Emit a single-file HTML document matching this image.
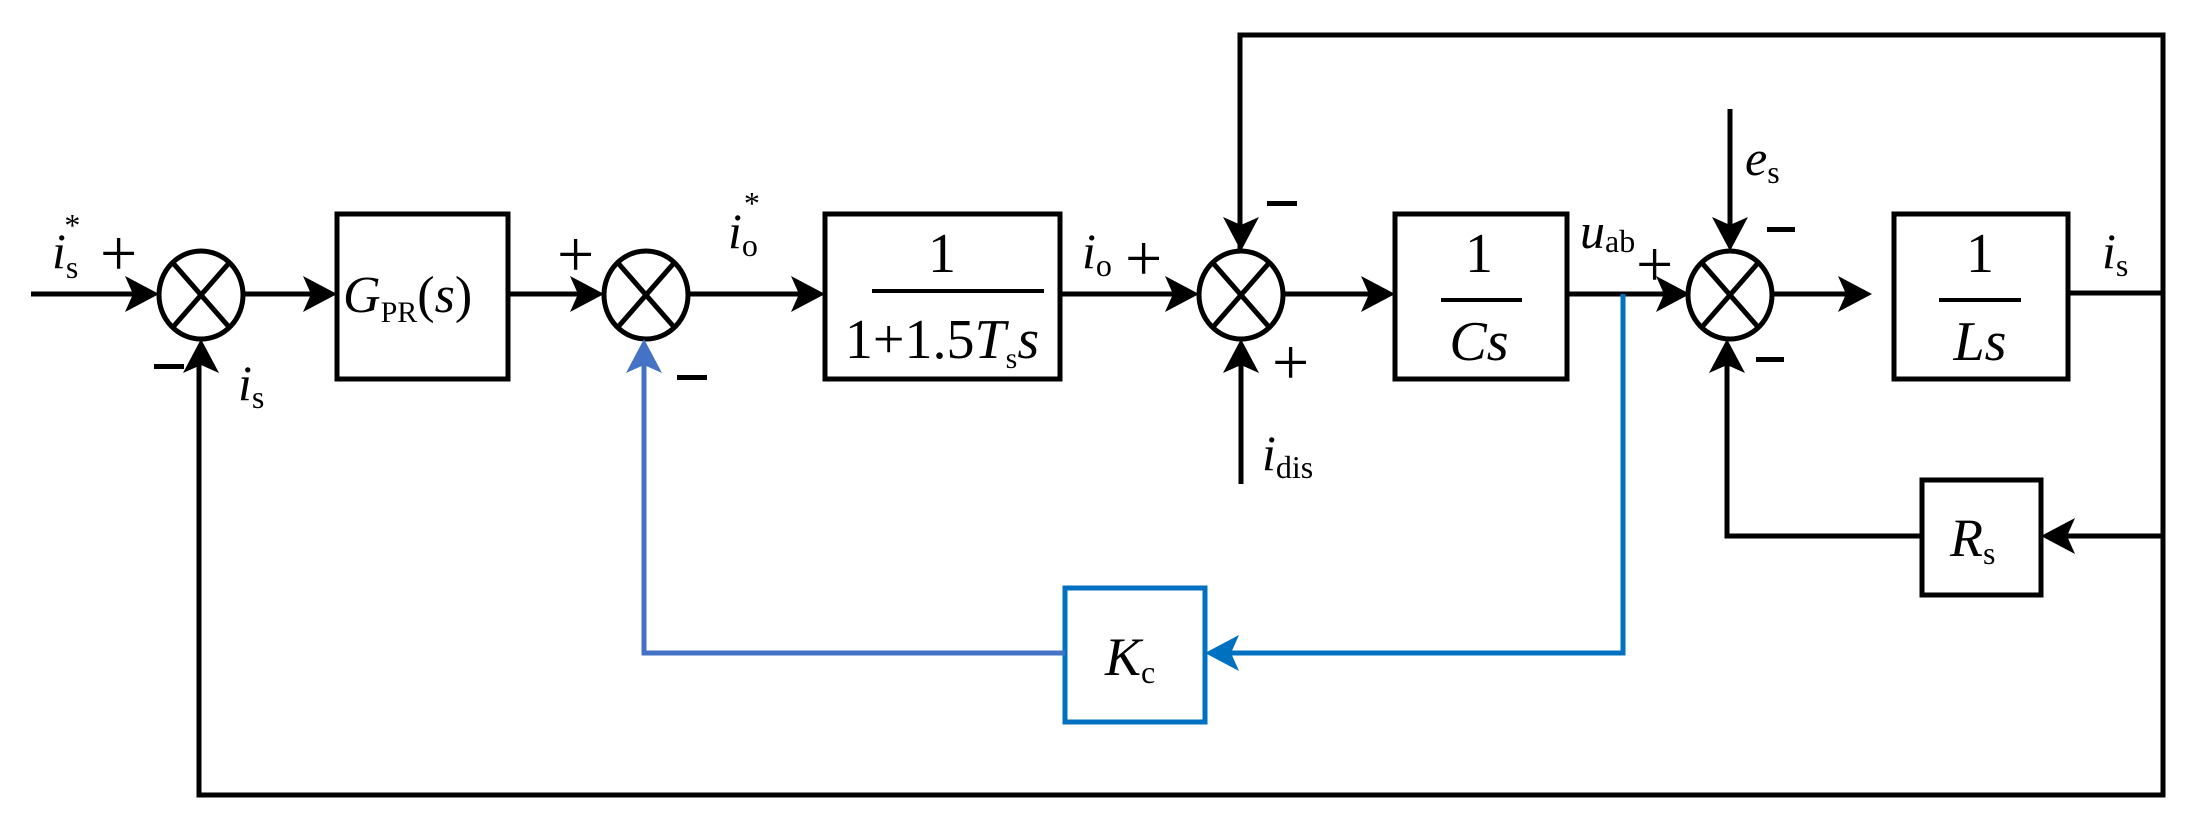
<!DOCTYPE html>
<html><head><meta charset="utf-8"><style>
html,body{margin:0;padding:0;background:#fff}
svg{display:block}
svg text{font-family:"Liberation Serif","DejaVu Serif",serif;fill:#000}
.i{font-style:italic}
</style></head><body>
<svg width="2197" height="833" viewBox="0 0 2197 833" xmlns="http://www.w3.org/2000/svg" font-family="Liberation Serif, DejaVu Serif, serif">
<g stroke="#000" stroke-width="5" fill="none">
<ellipse cx="201" cy="295" rx="42" ry="44"/>
<line x1="173" y1="263" x2="229" y2="327"/><line x1="229" y1="263" x2="173" y2="327"/>
<ellipse cx="646" cy="295" rx="42" ry="44"/>
<line x1="618" y1="263" x2="674" y2="327"/><line x1="674" y1="263" x2="618" y2="327"/>
<ellipse cx="1241" cy="295" rx="42" ry="44"/>
<line x1="1213" y1="263" x2="1269" y2="327"/><line x1="1269" y1="263" x2="1213" y2="327"/>
<ellipse cx="1730" cy="295" rx="42" ry="44"/>
<line x1="1702" y1="263" x2="1758" y2="327"/><line x1="1758" y1="263" x2="1702" y2="327"/>
<rect x="337" y="214" width="171" height="165"/>
<rect x="825" y="214" width="235" height="165"/>
<rect x="1395" y="214" width="172" height="165"/>
<rect x="1894" y="214" width="174" height="165"/>
<rect x="1922" y="480" width="119" height="115"/>
<line x1="31" y1="294" x2="150" y2="294"/>
<line x1="243" y1="294" x2="325" y2="294"/>
<line x1="508" y1="294" x2="595" y2="294"/>
<line x1="688" y1="294" x2="813" y2="294"/>
<line x1="1060" y1="294" x2="1190" y2="294"/>
<line x1="1283" y1="294" x2="1383" y2="294"/>
<line x1="1567" y1="294" x2="1679" y2="294"/>
<line x1="1772" y1="294" x2="1860" y2="294"/>
<line x1="2068" y1="293" x2="2163" y2="293"/>
<polyline points="1240,250 1240,35 2163,35 2163,795 199,795 199,350"/>
<line x1="1730" y1="109" x2="1730" y2="240"/>
<line x1="1241" y1="484" x2="1241" y2="350"/>
<line x1="2163" y1="536" x2="2055" y2="536"/>
<polyline points="1922,536 1727,536 1727,350"/>
<line x1="872" y1="291" x2="1044" y2="291" stroke-width="4"/>
<line x1="1441" y1="300" x2="1522" y2="300" stroke-width="4"/>
<line x1="1939" y1="300" x2="2021" y2="300" stroke-width="4"/>
</g>
<g fill="none" stroke-width="5">
<polyline points="1623,294 1623,653 1225,653" stroke="#0070C0"/>
<rect x="1065" y="588" width="140" height="134" stroke="#0070C0"/>
<polyline points="1065,653 644,653 644,365" stroke="#4472C4"/>
</g>
<g fill="#000">
<polygon points="159,294 125,276 133,294 125,312"/>
<polygon points="337,294 303,276 311,294 303,312"/>
<polygon points="604,294 570,276 578,294 570,312"/>
<polygon points="825,294 791,276 799,294 791,312"/>
<polygon points="1199,294 1165,276 1173,294 1165,312"/>
<polygon points="1395,294 1361,276 1369,294 1361,312"/>
<polygon points="1690,294 1656,276 1664,294 1656,312"/>
<polygon points="1872,294 1838,276 1846,294 1838,312"/>
<polygon points="201,339 183,373 201,365 219,373"/>
<polygon points="1241,339 1223,373 1241,365 1259,373"/>
<polygon points="1727,339 1709,373 1727,365 1745,373"/>
<polygon points="1241,251 1223,217 1241,225 1259,217"/>
<polygon points="1730,251 1712,217 1730,225 1748,217"/>
<polygon points="2041,536 2075,518 2067,536 2075,554"/>
<polygon points="644,339 626,373 644,365 662,373" fill="#4472C4"/>
<polygon points="1205,653 1239,635 1231,653 1239,671" fill="#0070C0"/>
</g>
<g font-size="66">
<text x="100" y="275">+</text>
<text x="557" y="276">+</text>
<text x="1125" y="280">+</text>
<text x="1272" y="384">+</text>
<text x="1636" y="286">+</text>
</g>
<g fill="#000">
<rect x="154" y="364" width="30" height="5"/>
<rect x="677" y="375" width="30" height="5"/>
<rect x="1267" y="201" width="30" height="5"/>
<rect x="1767" y="227" width="28" height="5"/>
<rect x="1756" y="357" width="28" height="5"/>
</g>
<text x="52" y="268" font-size="50" class="i">i<tspan font-style="normal" font-size="32" dy="10">s</tspan><tspan font-style="normal" font-size="32" dx="-14" dy="-42">*</tspan></text>
<text x="238" y="400" font-size="50" class="i">i<tspan font-style="normal" font-size="32" dy="8">s</tspan></text>
<text x="728" y="248" font-size="50" class="i">i<tspan font-style="normal" font-size="32" dy="8">o</tspan><tspan font-style="normal" font-size="32" dx="-14" dy="-42">*</tspan></text>
<text x="1082" y="268" font-size="50" class="i">i<tspan font-style="normal" font-size="32" dy="8">o</tspan></text>
<text x="1262" y="470" font-size="50" class="i">i<tspan font-style="normal" font-size="32" dy="8">dis</tspan></text>
<text x="1580" y="248" font-size="50" class="i">u<tspan font-style="normal" font-size="32" dy="4">ab</tspan></text>
<text x="1745" y="175" font-size="50" class="i">e<tspan font-style="normal" font-size="32" dy="8">s</tspan></text>
<text x="2102" y="268" font-size="50" class="i">i<tspan font-style="normal" font-size="32" dy="8">s</tspan></text>
<text x="343" y="312" font-size="52" class="i">G<tspan font-style="normal" font-size="30" dy="10">PR</tspan><tspan font-style="normal" font-size="52" dy="-10">(</tspan>s<tspan font-style="normal">)</tspan></text>
<text x="942" y="272" font-size="56" text-anchor="middle">1</text>
<text x="942" y="358" font-size="56" text-anchor="middle">1+1.5<tspan class="i">T</tspan><tspan font-size="30" dy="10">s</tspan><tspan class="i" dy="-10">s</tspan></text>
<text x="1479" y="272" font-size="56" text-anchor="middle">1</text>
<text x="1479" y="360" font-size="56" text-anchor="middle" class="i">Cs</text>
<text x="1980" y="272" font-size="56" text-anchor="middle">1</text>
<text x="1980" y="360" font-size="56" text-anchor="middle" class="i">Ls</text>
<text x="1950" y="556" font-size="54" class="i">R<tspan font-style="normal" font-size="32" dy="8">s</tspan></text>
<text x="1105" y="675" font-size="54" class="i">K<tspan font-style="normal" font-size="32" dy="8">c</tspan></text>
</svg>
</body></html>
